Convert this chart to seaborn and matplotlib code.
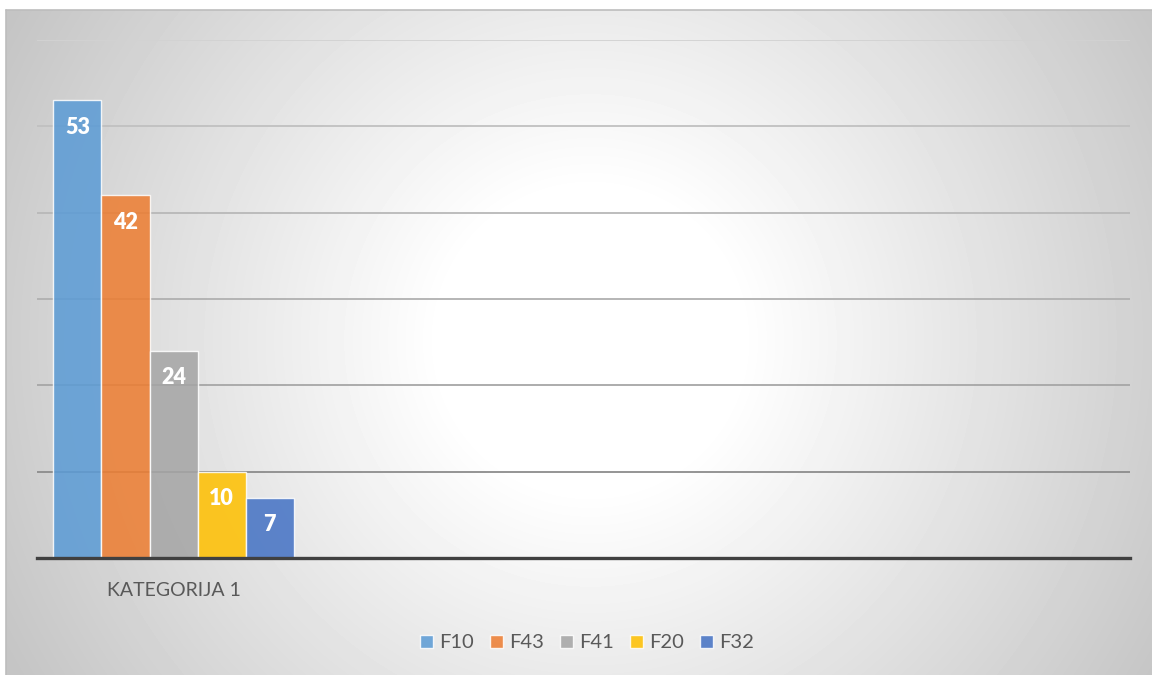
import numpy as np
import pandas as pd
import matplotlib
matplotlib.use("Agg")
import matplotlib.pyplot as plt
import seaborn as sns

# chart data
categories = ["KATEGORIJA 1", "KATEGORIJA 2", "KATEGORIJA 3", "KATEGORIJA 4"]
tick_labels = ["KATEGORIJA 1", "", "", ""]
series = ["F10", "F43", "F41", "F20", "F32"]
values = [53, 42, 24, 10, 7]
colors = ["#5B9BD5", "#ED7D31", "#A5A5A5", "#FFC000", "#4472C4"]
grid_levels = [10, 20, 30, 40, 50, 60]
grid_colors = ["#8c8c8c", "#a6a6a6", "#b0b0b0", "#b8b8b8", "#c0c0c0", "#d2d2d2"]

df = pd.DataFrame({"category": categories[0], "series": series, "value": values})

sns.set_theme(style="white")
plt.rcParams["font.family"] = ["Lato", "DejaVu Sans"]

W, H = 1152, 675
fig = plt.figure(figsize=(W / 100, H / 100), dpi=100)
fig.patch.set_facecolor("white")

# radial grey gradient behind the chart area
bg = fig.add_axes([6 / W, 0, 1 - 6 / W, 1 - 10 / H], zorder=-10)
yy, xx = np.mgrid[10:H, 6:W]
r = np.hypot(xx - 590, yy - 340)
t = np.clip((r - 150) / (665 - 150), 0, 1)
shade = 1 - 0.23 * t
bg.imshow(shade, cmap="gray", vmin=0, vmax=1, aspect="auto",
          extent=(0, 1, 0, 1), interpolation="bilinear")
bg.set_xlim(0, 1)
bg.set_ylim(0, 1)
bg.axis("off")
bg.plot([0, 1], [1, 1], color="#bdbdbd", lw=1.2, transform=bg.transAxes, clip_on=False)
bg.plot([0, 0], [0, 1], color="#bdbdbd", lw=1.2, transform=bg.transAxes, clip_on=False)

ax = fig.add_axes([37 / W, 1 - 558 / H, (1130 - 37) / W, (558 - 40) / H])
ax.patch.set_alpha(0)

for lvl, gc in zip(grid_levels, grid_colors):
    ax.axhline(lvl, color=gc, lw=1.3, zorder=0)

sns.barplot(data=df, x="category", y="value", hue="series", order=categories,
            hue_order=series, palette=colors, saturation=1, width=0.88,
            errorbar=None, alpha=0.86, edgecolor=(1, 1, 1, 0.55),
            linewidth=1.0, ax=ax, legend=True)

for cont in ax.containers:
    for bar in cont:
        h = bar.get_height()
        if np.isnan(h):
            continue
        ax.annotate(f"{h:.0f}", (bar.get_x() + bar.get_width() / 2, h),
                    xytext=(0, -19.5), textcoords="offset points",
                    ha="center", va="center", color="white",
                    fontsize=15.5, fontweight="heavy")

ax.set_ylim(0, 60)
ax.set_xlim(-0.5, len(categories) - 0.5)
ax.set_yticks([])
ax.set_xticks(range(len(categories)))
ax.set_xticklabels(tick_labels, color="#595959", fontsize=14)
ax.tick_params(axis="x", length=0, pad=17)
ax.set_xlabel("")
ax.set_ylabel("")
for s in ["top", "left", "right"]:
    ax.spines[s].set_visible(False)
ax.spines["bottom"].set_color("#404040")
ax.spines["bottom"].set_linewidth(2.4)
ax.spines["bottom"].set_zorder(5)

handles, labels = ax.get_legend_handles_labels()
ax.get_legend().remove()
leg = fig.legend(handles, labels, loc="center", bbox_to_anchor=(587 / W, 1 - 643 / H),
                 ncol=5, frameon=False, fontsize=14.5, handlelength=0.65,
                 handleheight=0.65, handletextpad=0.3, columnspacing=0.8)
for txt in leg.get_texts():
    txt.set_color("#595959")

fig.savefig("out.png", dpi=100, facecolor=fig.get_facecolor())
